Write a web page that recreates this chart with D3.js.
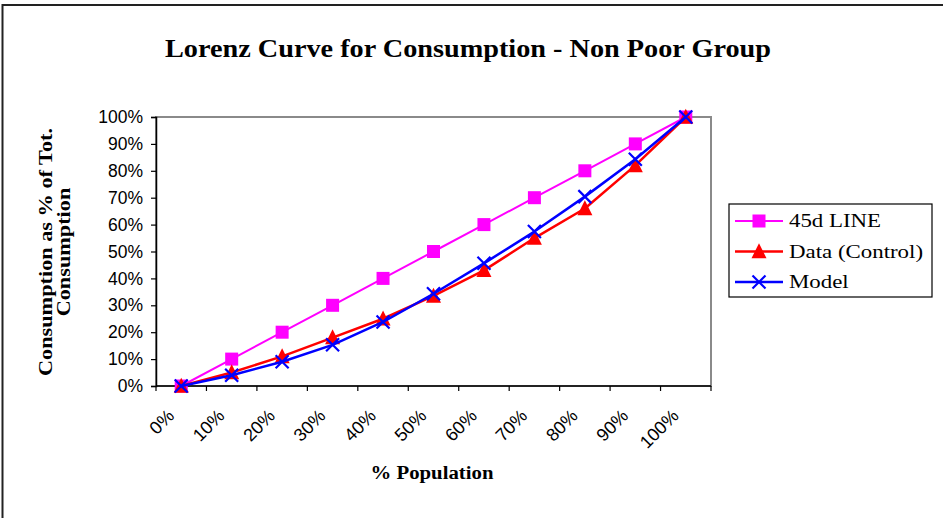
<!DOCTYPE html>
<html>
<head>
<meta charset="utf-8">
<script src="https://cdn.jsdelivr.net/npm/d3@7/dist/d3.min.js"></script>
<style>
  html, body { margin: 0; padding: 0; background: #fff; }
  svg { display: block; }
</style>
</head>
<body>
<svg id="chart" width="943" height="518"></svg>
<script>
// ---- data ----
const categories = ["0%", "10%", "20%", "30%", "40%", "50%", "60%", "70%", "80%", "90%", "100%"];
const line45 = [0, 10, 20, 30, 40, 50, 60, 70, 80, 90, 100];
const dataControl = [0, 5, 11, 18, 25, 33.5, 43, 55, 66, 82, 100];
const model = [0, 4, 9, 15.3, 23.8, 34.3, 45.6, 57.4, 70.4, 84.3, 100];
const yTicks = [0, 10, 20, 30, 40, 50, 60, 70, 80, 90, 100];
const seriesNames = ["45d LINE", "Data (Control)", "Model"];

const title = "Lorenz Curve for Consumption - Non Poor Group";
const xTitle = "% Population";
const yTitle1 = "Consumption as % of Tot.";
const yTitle2 = "Consumption";

const serif = "'Liberation Serif', 'DejaVu Serif', serif";
const sans = "'Liberation Sans', Arial, sans-serif";

const svg = d3.select("#chart");

// chart border
svg.append("rect").attr("x", 2.5).attr("y", 5).attr("width", 960).attr("height", 600)
  .attr("fill", "#fff").attr("stroke", "#222").attr("stroke-width", 2);

const plot = { left: 156, right: 711, top: 117, bottom: 386 };

const x = d3.scaleBand().domain(categories).range([plot.left, plot.right]).padding(0);
const y = d3.scaleLinear().domain([0, 100]).range([plot.bottom, plot.top]);

// plot area border (gray top/right)
svg.append("rect").attr("x", plot.left).attr("y", plot.top)
  .attr("width", plot.right - plot.left).attr("height", plot.bottom - plot.top)
  .attr("fill", "#fff").attr("stroke", "#8a8a8a").attr("stroke-width", 2);

// y axis
const yAxis = d3.axisLeft(y).tickValues(yTicks).tickSize(5).tickFormat(d => d + "%");
const gy = svg.append("g").attr("transform", `translate(${plot.left},0)`).call(yAxis);
gy.select(".domain").attr("stroke", "#000").attr("stroke-width", 1.5);
gy.selectAll(".tick line").attr("stroke", "#000").attr("stroke-width", 1.2);
gy.selectAll(".tick text").attr("x", -13).attr("font-family", sans).attr("font-size", 17.5).attr("fill", "#000");

// x axis: ticks at category boundaries
const bounds = categories.map(c => x(c)).concat([plot.right]);
const gx = svg.append("g");
gx.append("line").attr("x1", plot.left).attr("x2", plot.right).attr("y1", plot.bottom).attr("y2", plot.bottom)
  .attr("stroke", "#000").attr("stroke-width", 1.5);
gx.selectAll("line.tk").data(bounds).enter().append("line").attr("class", "tk")
  .attr("x1", d => d).attr("x2", d => d).attr("y1", plot.bottom).attr("y2", plot.bottom + 5)
  .attr("stroke", "#000").attr("stroke-width", 1.2);
gx.selectAll("text").data(categories).enter().append("text")
  .attr("transform", d => `translate(${x(d) + x.bandwidth() / 2 - 6},417) rotate(-45)`)
  .attr("text-anchor", "end").attr("font-family", sans).attr("font-size", 18).attr("fill", "#000")
  .text(d => d);

// series
const cx = i => x(categories[i]) + x.bandwidth() / 2;
const lineGen = d3.line().x((d, i) => cx(i)).y(d => y(d));
const series = [
  { name: seriesNames[0], values: line45, color: "#ff00ff", width: 2, marker: "square" },
  { name: seriesNames[1], values: dataControl, color: "#ff0000", width: 2.5, marker: "triangle" },
  { name: seriesNames[2], values: model, color: "#0000ff", width: 2.5, marker: "x" }
];

function drawMarker(g, type, color, px, py) {
  if (type === "square") {
    g.append("rect").attr("x", px - 6.5).attr("y", py - 6.5).attr("width", 13).attr("height", 13).attr("fill", color);
  } else if (type === "triangle") {
    const s = 15;
    g.append("path").attr("d", `M${px},${py - s * 0.55} L${px + s / 2},${py + s * 0.45} L${px - s / 2},${py + s * 0.45} Z`).attr("fill", color);
  } else {
    const r = 6.5;
    g.append("path").attr("d", `M${px - r},${py - r} L${px + r},${py + r} M${px - r},${py + r} L${px + r},${py - r}`)
      .attr("stroke", color).attr("stroke-width", 2.2).attr("fill", "none");
  }
}

series.forEach(s => {
  const g = svg.append("g");
  g.append("path").datum(s.values).attr("d", lineGen).attr("fill", "none")
    .attr("stroke", s.color).attr("stroke-width", s.width).attr("stroke-linejoin", "round");
  s.values.forEach((v, i) => drawMarker(g, s.marker, s.color, cx(i), y(v)));
});

// stretch helper: keep font size, widen glyphs to match target width; returns ratio
function stretch(sel, target) {
  const w = sel.node().getComputedTextLength();
  sel.attr("textLength", target).attr("lengthAdjust", "spacingAndGlyphs");
  return target / w;
}

// title
const t = svg.append("text").attr("x", 468).attr("y", 57).attr("text-anchor", "middle")
  .attr("font-family", serif).attr("font-weight", "bold").attr("font-size", 25).attr("fill", "#000").text(title);
stretch(t, 606);

// x title
const xt = svg.append("text").attr("x", 432).attr("y", 479).attr("text-anchor", "middle")
  .attr("font-family", serif).attr("font-weight", "bold").attr("font-size", 18).attr("fill", "#000").text(xTitle);
stretch(xt, 123);

// y title
const yt1 = svg.append("text").attr("transform", "translate(52,252) rotate(-90)").attr("text-anchor", "middle")
  .attr("font-family", serif).attr("font-weight", "bold").attr("font-size", 18).attr("fill", "#000").text(yTitle1);
const ratio = stretch(yt1, 248);
const yt2 = svg.append("text").attr("transform", "translate(70,252) rotate(-90)").attr("text-anchor", "middle")
  .attr("font-family", serif).attr("font-weight", "bold").attr("font-size", 18).attr("fill", "#000").text(yTitle2);
stretch(yt2, yt2.node().getComputedTextLength() * ratio);

// legend
const lg = svg.append("g");
lg.append("rect").attr("x", 729).attr("y", 204).attr("width", 203).attr("height", 93)
  .attr("fill", "#fff").attr("stroke", "#000").attr("stroke-width", 1.2);
const rowY = d3.scalePoint().domain(seriesNames).range([221, 282]);
const legTexts = [];
series.forEach(s => {
  const ry = rowY(s.name);
  lg.append("line").attr("x1", 735).attr("x2", 783).attr("y1", ry).attr("y2", ry)
    .attr("stroke", s.color).attr("stroke-width", s.width);
  drawMarker(lg, s.marker, s.color, 759, ry);
  legTexts.push(lg.append("text").attr("x", 789).attr("y", ry + 6).attr("font-family", serif)
    .attr("font-size", 18).attr("fill", "#000").text(s.name));
});
const lr = stretch(legTexts[1], 134);
[legTexts[0], legTexts[2]].forEach(tx => stretch(tx, tx.node().getComputedTextLength() * lr));
</script>
</body>
</html>
